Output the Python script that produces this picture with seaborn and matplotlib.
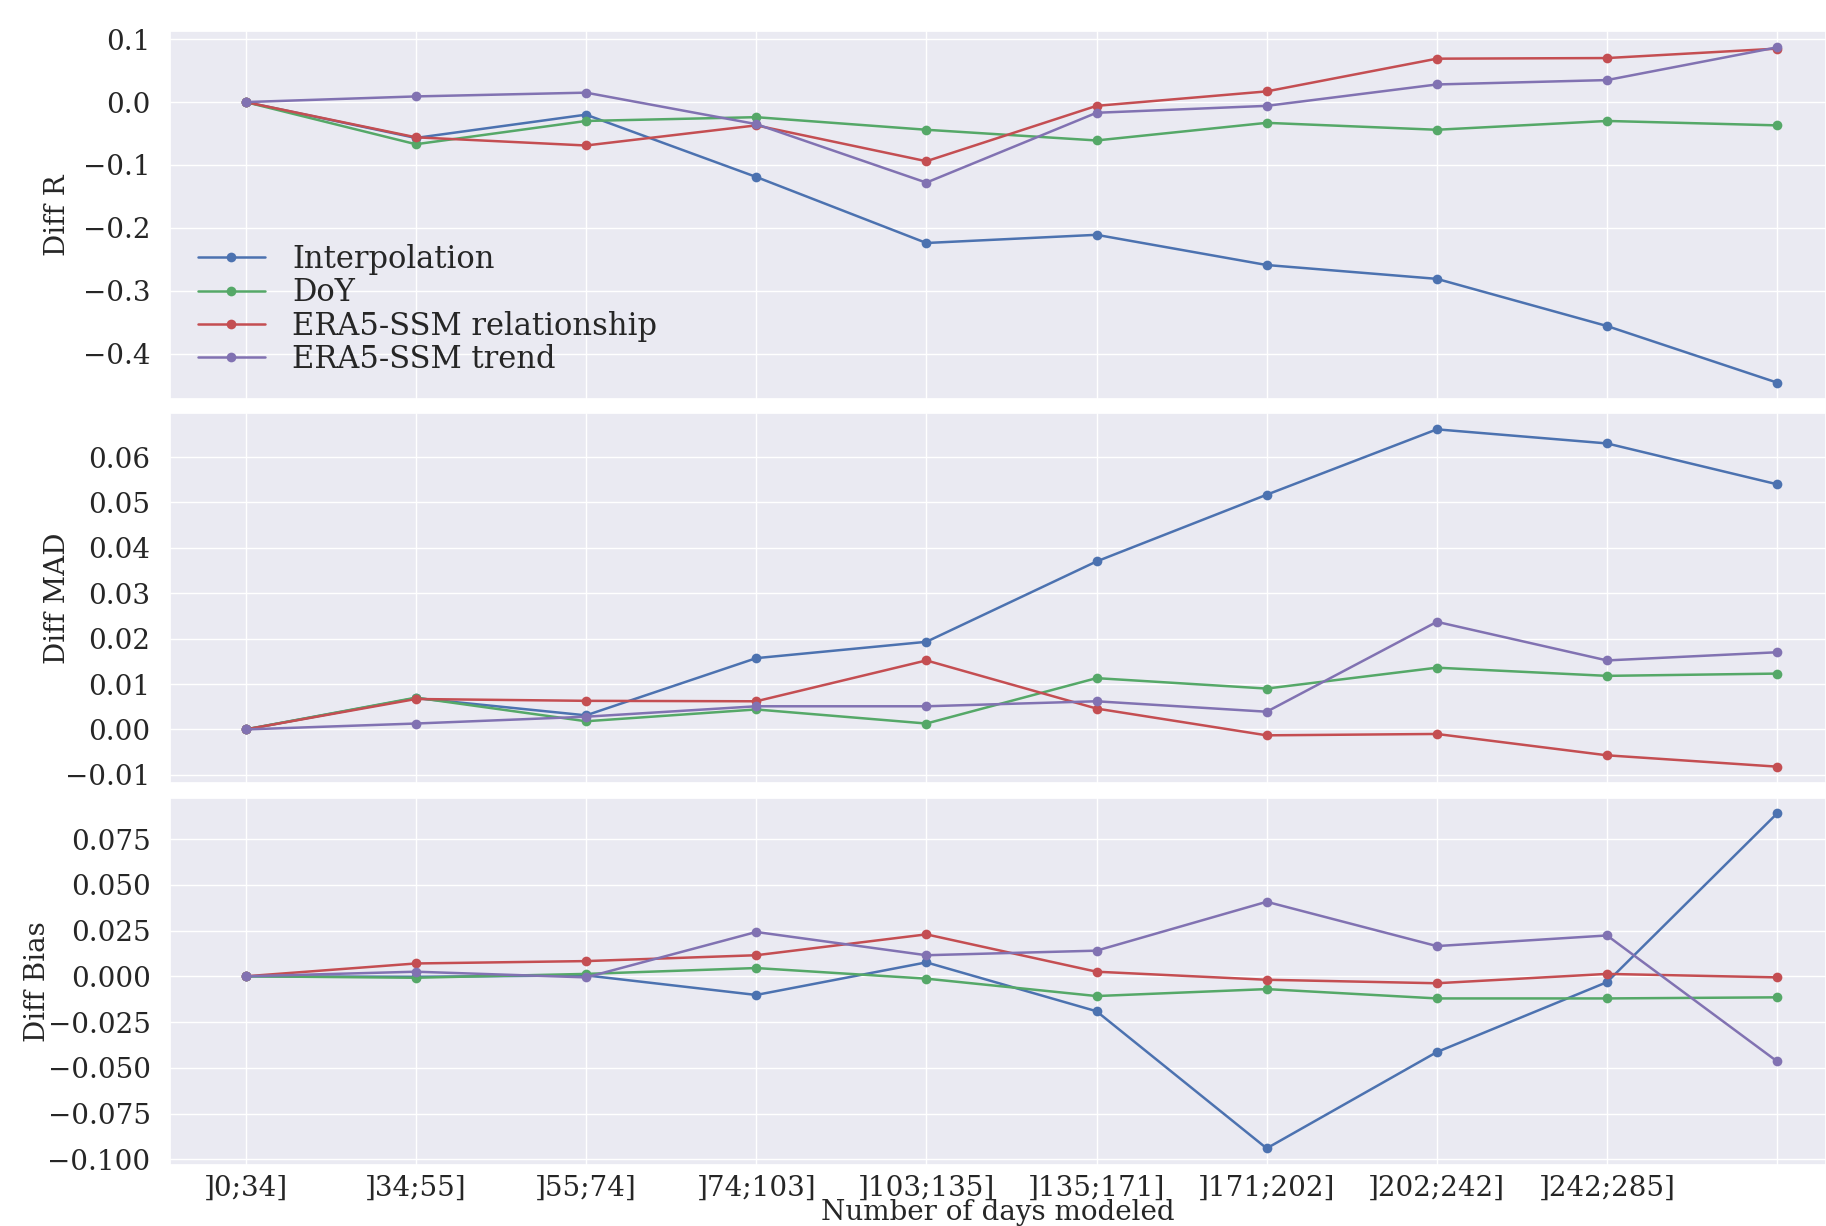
import numpy as np
import pandas as pd
import seaborn as sns
import matplotlib
matplotlib.use("Agg")
import matplotlib.pyplot as plt

# ---------------- data ----------------
categories = ["]0;34]", "]34;55]", "]55;74]", "]74;103]", "]103;135]",
              "]135;171]", "]171;202]", "]202;242]", "]242;285]", ""]
methods = ["Interpolation", "DoY", "ERA5-SSM relationship", "ERA5-SSM trend"]

diff_r_interp = [0.0, -0.057, -0.020, -0.119, -0.224, -0.211, -0.259, -0.281, -0.356, -0.446]
diff_r_doy    = [0.0, -0.067, -0.030, -0.024, -0.044, -0.061, -0.033, -0.044, -0.030, -0.037]
diff_r_rel    = [0.0, -0.056, -0.069, -0.037, -0.094, -0.006, 0.017, 0.069, 0.070, 0.085]
diff_r_trend  = [0.0, 0.009, 0.015, -0.035, -0.128, -0.017, -0.006, 0.028, 0.035, 0.087]

diff_mad_interp = [0.0, 0.0069, 0.0031, 0.0157, 0.0193, 0.0370, 0.0517, 0.0661, 0.0630, 0.0540]
diff_mad_doy    = [0.0, 0.0070, 0.0018, 0.0044, 0.0013, 0.0113, 0.0090, 0.0136, 0.0118, 0.0123]
diff_mad_rel    = [0.0, 0.0067, 0.0063, 0.0062, 0.0152, 0.0046, -0.0013, -0.0010, -0.0057, -0.0082]
diff_mad_trend  = [0.0, 0.0013, 0.0028, 0.0051, 0.0051, 0.0062, 0.0039, 0.0237, 0.0152, 0.0170]

diff_bias_interp = [0.0, -0.0003, 0.0005, -0.0102, 0.0076, -0.0191, -0.0940, -0.0414, -0.0032, 0.0890]
diff_bias_doy    = [0.0, -0.0008, 0.0013, 0.0045, -0.0013, -0.0108, -0.0070, -0.0121, -0.0121, -0.0115]
diff_bias_rel    = [0.0, 0.0070, 0.0083, 0.0115, 0.0229, 0.0025, -0.0019, -0.0038, 0.0013, -0.0006]
diff_bias_trend  = [0.0, 0.0025, -0.0006, 0.0242, 0.0115, 0.0140, 0.0407, 0.0165, 0.0223, -0.0465]

panels = [
    ("Diff R", [diff_r_interp, diff_r_doy, diff_r_rel, diff_r_trend]),
    ("Diff MAD", [diff_mad_interp, diff_mad_doy, diff_mad_rel, diff_mad_trend]),
    ("Diff Bias", [diff_bias_interp, diff_bias_doy, diff_bias_rel, diff_bias_trend]),
]

colors = ["#4C72B0", "#55A868", "#C44E52", "#8172B2"]

# ---------------- style ----------------
sns.set_theme(style="darkgrid")
plt.rcParams["font.family"] = ["DejaVu Serif"]
plt.rcParams["text.color"] = ".15"

fig = plt.figure(figsize=(18.26, 12.26), dpi=100)
W, H = 1826, 1226
left = 170 / W
boxes = [(31, 399), (413, 783), (798, 1165)]
ylims = [(-0.472, 0.113), (-0.0118, 0.0697), (-0.1031, 0.0974)]
yticks = [np.arange(-0.4, 0.101, 0.1),
          np.arange(-0.01, 0.0601, 0.01),
          np.arange(-0.1, 0.0751, 0.025)]
decimals = [1, 2, 3]
label_x = [-0.060, -0.060, -0.072]


def fmt(v, d):
    v = round(v, d)
    if abs(v) < 10 ** (-d - 1):
        v = 0.0
    return f"{v:.{d}f}".replace("-", "\u2212")


x = np.arange(len(categories))
axes = []
for i, (ylabel, series) in enumerate(panels):
    top, bot = boxes[i]
    ax = fig.add_axes([left, 1 - bot / H, 1 - left, (bot - top) / H])
    df = pd.DataFrame({
        "x": np.tile(x, len(methods)),
        "value": np.concatenate(series),
        "method": np.repeat(methods, len(x)),
    })
    sns.lineplot(data=df, x="x", y="value", hue="method", hue_order=methods,
                 palette=colors, marker="o", markersize=7, markeredgewidth=0,
                 linewidth=1.8, ax=ax, legend=(i == 0))
    ax.set_xlim(-0.445, 9.287)
    ax.set_ylim(*ylims[i])
    ax.set_yticks(yticks[i])
    ax.set_yticklabels([fmt(v, decimals[i]) for v in yticks[i]])
    ax.set_xticks(x)
    if i == 2:
        ax.set_xticklabels(categories)
        ax.set_xlabel("Number of days modeled", fontsize=20, labelpad=-2)
    else:
        ax.set_xticklabels([])
        ax.set_xlabel("")
    ax.set_ylabel(ylabel, fontsize=20)
    ax.yaxis.set_label_coords(label_x[i], 0.5)
    ax.tick_params(axis="y", labelsize=20, pad=8)
    ax.tick_params(axis="x", labelsize=20, pad=1)
    axes.append(ax)

leg = axes[0].legend(loc="lower left", bbox_to_anchor=(0.0, -0.01), frameon=False,
                     fontsize=22, handlelength=2.2, handletextpad=0.9,
                     labelspacing=0.08)

fig.savefig("out.png", dpi=100)
